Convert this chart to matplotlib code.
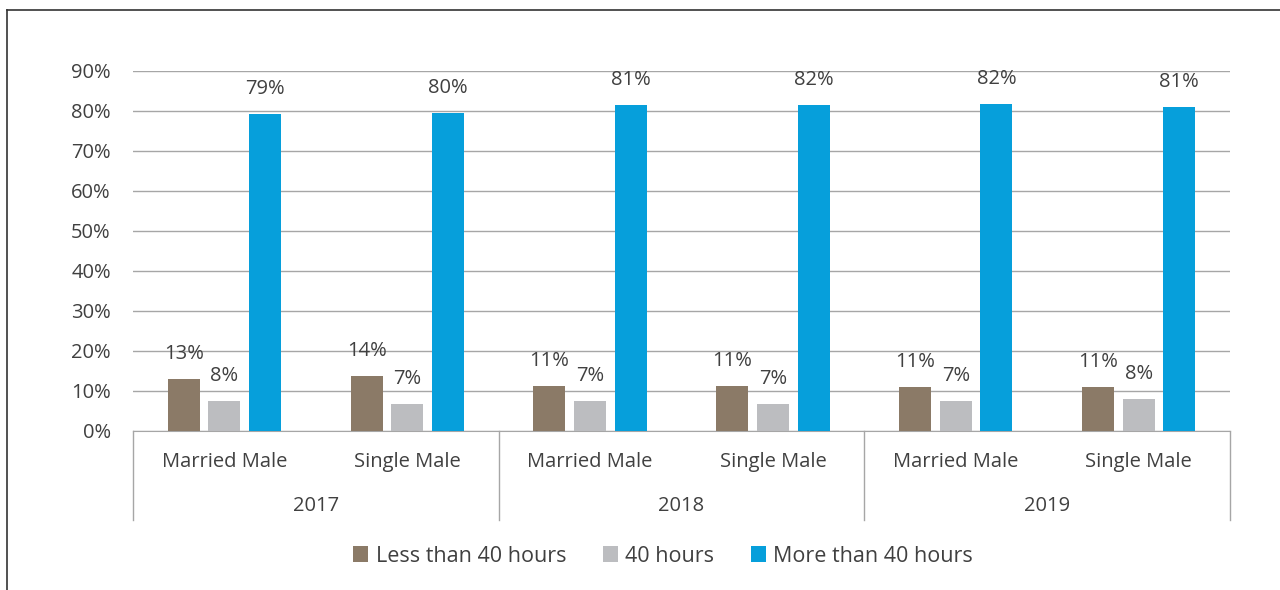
import numpy as np
import matplotlib
matplotlib.use("Agg")
from matplotlib import pyplot as plt
from matplotlib.lines import Line2D
from matplotlib.transforms import blended_transform_factory

# Share of workers by weekly hours, per year and marital status (%)
years = ["2017", "2018", "2019"]
groups = ["Married Male", "Single Male"]
series_names = ["Less than 40 hours", "40 hours", "More than 40 hours"]
less_40 = [13.0, 13.8, 11.2, 11.3, 10.9, 10.9]
exactly_40 = [7.6, 6.7, 7.4, 6.8, 7.4, 8.0]
more_40 = [79.3, 79.6, 81.4, 81.6, 81.7, 81.1]
yticks = [0, 10, 20, 30, 40, 50, 60, 70, 80, 90]

colors = ["#8b7a67", "#bcbdc0", "#069fdb"]
text_col = "#404040"
grid_col = "#a6a6a6"

plt.rcParams["font.family"] = ["Open Sans", "DejaVu Sans"]

fig = plt.figure(figsize=(12.8, 5.9), dpi=100)
ax = fig.add_axes([133 / 1280, 1 - 431 / 590, 1097 / 1280, 360 / 590])

x = np.arange(len(less_40))
width = 0.175
step = 0.222
for k, vals in enumerate([less_40, exactly_40, more_40]):
    pos = x + (k - 1) * step
    ax.bar(pos, vals, width, color=colors[k], label=series_names[k], zorder=3)
    for xp, v in zip(pos, vals):
        ax.annotate(f"{v:.0f}%", (xp, v), xytext=(0, 18), textcoords="offset points",
                    ha="center", va="center", fontsize=14.5, color=text_col)

ax.set_xlim(-0.5, len(x) - 0.5)
ax.set_ylim(0, 90)
ax.set_yticks(yticks)
ax.set_yticklabels([f"{t}%" for t in yticks], fontsize=14.5, color=text_col)
ax.yaxis.grid(True, color=grid_col, lw=1, zorder=0)
ax.tick_params(axis="y", length=0, pad=16)
ax.set_xticks([])
for s in ["top", "right", "left"]:
    ax.spines[s].set_visible(False)
ax.spines["bottom"].set_color(grid_col)

# two-level category axis under the bars
tr = blended_transform_factory(ax.transData, ax.transAxes)
for b in [-0.5, 1.5, 3.5, 5.5]:
    ax.plot([b, b], [0, -0.247], transform=tr, color=grid_col, lw=1, clip_on=False)
for i in x:
    ax.text(i, -0.087, groups[i % 2], transform=tr, ha="center", va="center",
            fontsize=14.5, color=text_col)
for j, yr in enumerate(years):
    ax.text(2 * j + 0.5, -0.209, yr, transform=tr, ha="center", va="center",
            fontsize=14.5, color=text_col)

ax.legend(loc="center", bbox_to_anchor=(0.518, 1 - 556 / 590), bbox_transform=fig.transFigure,
          ncol=3, frameon=False, fontsize=15.5, handlelength=0.7, handleheight=0.7,
          handletextpad=0.35, columnspacing=1.7, labelcolor=text_col)

# outer border
fig.add_artist(Line2D([7 / 1280, 1], [1 - 10 / 590, 1 - 10 / 590], color="#333333", lw=1.2))
fig.add_artist(Line2D([7 / 1280, 7 / 1280], [0, 1 - 10 / 590], color="#333333", lw=1.2))

fig.savefig("out.png", dpi=100)
